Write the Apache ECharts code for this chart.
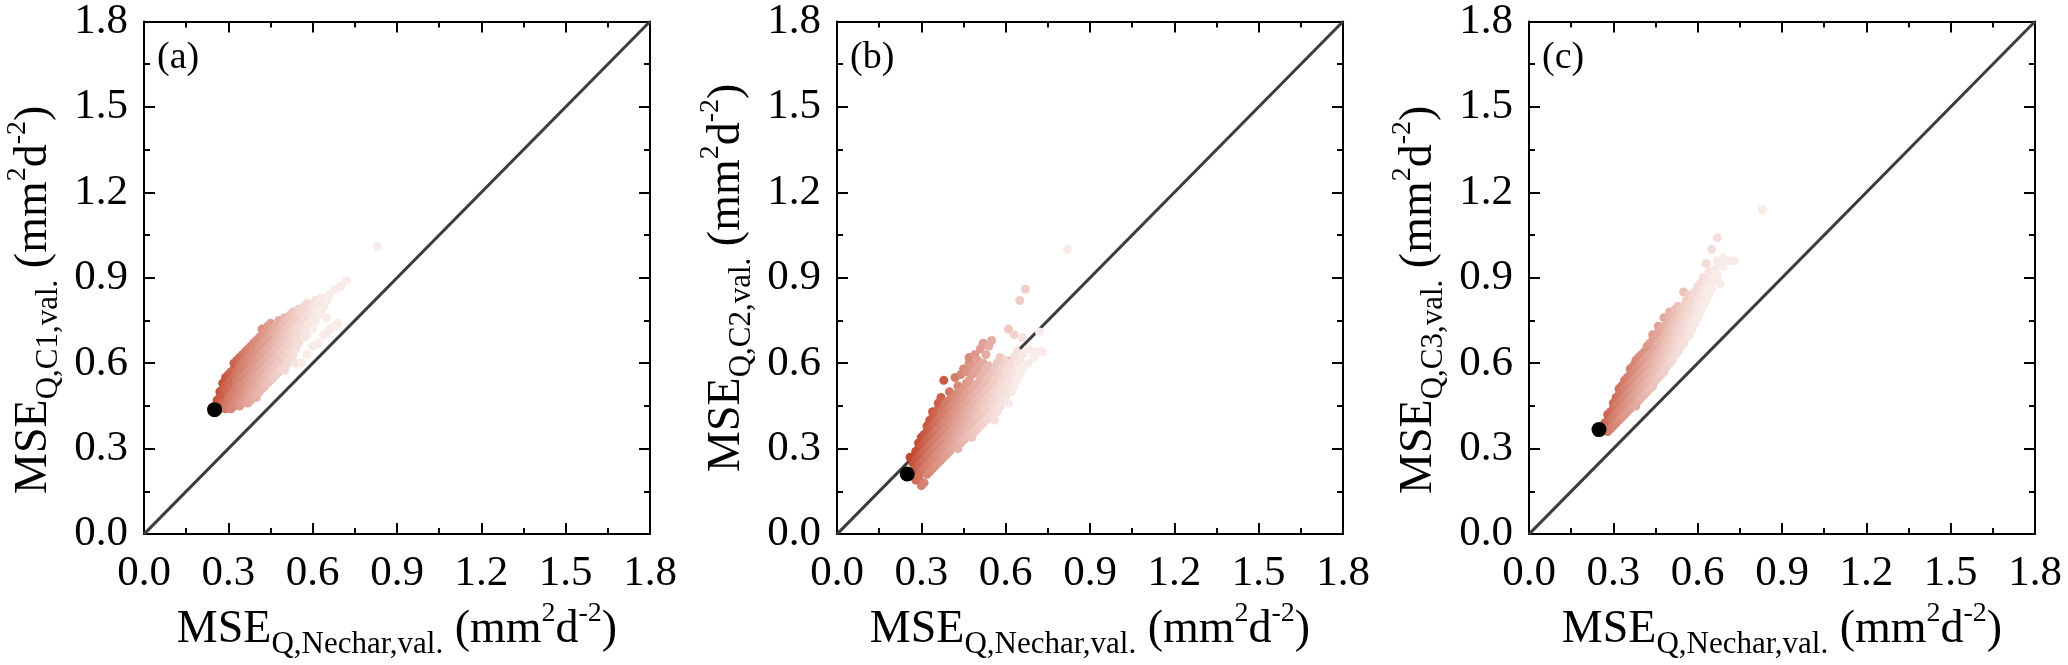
<!DOCTYPE html>
<html>
<head>
<meta charset="utf-8">
<script src="https://cdn.jsdelivr.net/npm/echarts/dist/echarts.min.js"></script>
<style>
  html, body { margin: 0; padding: 0; background: #fff; }
  #main { width: 2068px; height: 665px; }
</style>
</head>
<body>
<div id="main"></div>
<script>
var FONT = '"Liberation Serif", "Times New Roman", serif';

// axis range shared by all three panels
var axisMin = 0, axisMax = 1.8, axisStep = 0.3;
var diagonal = [[0, 0], [1.8, 1.8]];

var panelTags = ['(a)', '(b)', '(c)'];
var ySubs = ['Q,C1,val.', 'Q,C2,val.', 'Q,C3,val.'];
var xSub = 'Q,Nechar,val.';

// calibrated parameter sets: each row is [x, y1, y2, ...] (MSE Nechar, MSE C-model)
var cloudA = [
  [0.26, 0.45, 0.47, 0.46],
  [0.27, 0.44, 0.48, 0.50, 0.46],
  [0.28, 0.45, 0.47, 0.49, 0.51, 0.53],
  [0.29, 0.44, 0.46, 0.50, 0.52, 0.55],
  [0.30, 0.45, 0.48, 0.51, 0.53, 0.56],
  [0.31, 0.44, 0.47, 0.49, 0.52, 0.54, 0.57],
  [0.32, 0.45, 0.48, 0.50, 0.55, 0.58, 0.60],
  [0.33, 0.46, 0.49, 0.52, 0.54, 0.57, 0.61],
  [0.34, 0.45, 0.47, 0.51, 0.53, 0.56, 0.59, 0.62],
  [0.35, 0.46, 0.49, 0.52, 0.55, 0.58, 0.60, 0.63],
  [0.36, 0.47, 0.50, 0.53, 0.56, 0.59, 0.61, 0.64],
  [0.37, 0.46, 0.48, 0.51, 0.54, 0.57, 0.60, 0.62, 0.65],
  [0.38, 0.47, 0.50, 0.53, 0.55, 0.58, 0.61, 0.63, 0.66],
  [0.39, 0.49, 0.52, 0.54, 0.57, 0.60, 0.62, 0.65, 0.67],
  [0.40, 0.48, 0.51, 0.55, 0.58, 0.61, 0.64, 0.68],
  [0.41, 0.50, 0.53, 0.56, 0.59, 0.62, 0.66, 0.69],
  [0.42, 0.51, 0.54, 0.57, 0.60, 0.63, 0.67, 0.70, 0.72],
  [0.43, 0.52, 0.55, 0.58, 0.61, 0.64, 0.68, 0.71],
  [0.44, 0.53, 0.56, 0.59, 0.62, 0.65, 0.69, 0.73],
  [0.45, 0.54, 0.57, 0.60, 0.63, 0.66, 0.70, 0.74],
  [0.46, 0.55, 0.58, 0.61, 0.64, 0.67, 0.71, 0.72],
  [0.47, 0.56, 0.59, 0.62, 0.65, 0.68, 0.70, 0.73],
  [0.48, 0.57, 0.60, 0.63, 0.66, 0.69, 0.72, 0.75],
  [0.49, 0.58, 0.64, 0.67, 0.70, 0.73],
  [0.50, 0.575, 0.62, 0.65, 0.68, 0.71, 0.74, 0.76],
  [0.51, 0.60, 0.66, 0.69, 0.72, 0.75],
  [0.52, 0.61, 0.64, 0.67, 0.70, 0.73, 0.77],
  [0.53, 0.63, 0.68, 0.71, 0.74, 0.78],
  [0.54, 0.60, 0.65, 0.69, 0.72, 0.76],
  [0.55, 0.67, 0.70, 0.73, 0.77, 0.79],
  [0.56, 0.60, 0.71, 0.74, 0.78],
  [0.57, 0.69, 0.72, 0.75, 0.80],
  [0.58, 0.63, 0.70, 0.73, 0.77, 0.81],
  [0.59, 0.74, 0.78],
  [0.60, 0.66, 0.72, 0.76, 0.80],
  [0.61, 0.75, 0.79, 0.82],
  [0.62, 0.67, 0.77, 0.81],
  [0.63, 0.78, 0.83],
  [0.64, 0.70, 0.80],
  [0.65, 0.705, 0.76, 0.82],
  [0.66, 0.72, 0.84],
  [0.68, 0.73, 0.86],
  [0.69, 0.74],
  [0.70, 0.87],
  [0.72, 0.89],
  [0.83, 1.01]
];

var cloudB = [
  [0.26, 0.27],
  [0.27, 0.22, 0.25, 0.27],
  [0.28, 0.19, 0.23, 0.26, 0.29],
  [0.29, 0.20, 0.24, 0.27, 0.30, 0.32],
  [0.30, 0.17, 0.22, 0.25, 0.28, 0.31, 0.34],
  [0.31, 0.18, 0.23, 0.26, 0.29, 0.32, 0.35],
  [0.32, 0.21, 0.24, 0.27, 0.30, 0.33, 0.36, 0.38],
  [0.33, 0.22, 0.25, 0.28, 0.31, 0.34, 0.37, 0.40],
  [0.34, 0.23, 0.26, 0.29, 0.32, 0.35, 0.38, 0.41, 0.43],
  [0.35, 0.24, 0.27, 0.30, 0.33, 0.36, 0.39, 0.42],
  [0.36, 0.25, 0.28, 0.31, 0.34, 0.37, 0.40, 0.44, 0.46],
  [0.37, 0.26, 0.29, 0.32, 0.35, 0.38, 0.41, 0.43, 0.48],
  [0.38, 0.27, 0.30, 0.33, 0.36, 0.39, 0.42, 0.45, 0.54],
  [0.39, 0.28, 0.31, 0.34, 0.37, 0.40, 0.43, 0.46],
  [0.40, 0.29, 0.32, 0.35, 0.38, 0.41, 0.44, 0.47, 0.50],
  [0.41, 0.30, 0.33, 0.36, 0.39, 0.42, 0.45, 0.48],
  [0.42, 0.31, 0.34, 0.37, 0.40, 0.43, 0.46, 0.49, 0.55],
  [0.43, 0.30, 0.33, 0.36, 0.39, 0.42, 0.45, 0.48, 0.52],
  [0.44, 0.32, 0.35, 0.38, 0.41, 0.44, 0.47, 0.50, 0.56],
  [0.45, 0.33, 0.36, 0.39, 0.42, 0.45, 0.48, 0.51, 0.58],
  [0.46, 0.34, 0.37, 0.40, 0.43, 0.46, 0.49, 0.53, 0.57],
  [0.47, 0.35, 0.38, 0.41, 0.44, 0.47, 0.50, 0.54, 0.60, 0.62],
  [0.48, 0.34, 0.39, 0.42, 0.45, 0.48, 0.51, 0.56, 0.59],
  [0.49, 0.36, 0.40, 0.43, 0.46, 0.49, 0.52, 0.57, 0.63],
  [0.50, 0.37, 0.41, 0.44, 0.47, 0.50, 0.53, 0.58, 0.61],
  [0.51, 0.38, 0.42, 0.45, 0.48, 0.51, 0.55, 0.65],
  [0.52, 0.39, 0.43, 0.46, 0.49, 0.52, 0.56, 0.60, 0.67],
  [0.53, 0.40, 0.44, 0.47, 0.50, 0.54, 0.58, 0.63],
  [0.54, 0.41, 0.45, 0.48, 0.51, 0.55, 0.59, 0.66],
  [0.55, 0.42, 0.46, 0.49, 0.52, 0.56, 0.68],
  [0.56, 0.40, 0.44, 0.47, 0.50, 0.54, 0.58],
  [0.57, 0.43, 0.48, 0.51, 0.55, 0.60],
  [0.58, 0.45, 0.49, 0.52, 0.57, 0.62],
  [0.59, 0.47, 0.50, 0.54, 0.59],
  [0.60, 0.48, 0.52, 0.56, 0.61],
  [0.61, 0.46, 0.53, 0.58, 0.72],
  [0.62, 0.50, 0.55, 0.60],
  [0.63, 0.52, 0.57, 0.62, 0.70],
  [0.64, 0.54, 0.59, 0.64],
  [0.65, 0.56, 0.61, 0.82],
  [0.66, 0.58, 0.63, 0.69],
  [0.67, 0.86],
  [0.68, 0.60, 0.65],
  [0.70, 0.62, 0.64],
  [0.72, 0.64, 0.71],
  [0.73, 0.64],
  [0.82, 1.00]
];

var cloudC = [
  [0.27, 0.37, 0.39],
  [0.28, 0.36, 0.38, 0.40, 0.42],
  [0.29, 0.37, 0.40, 0.43],
  [0.30, 0.38, 0.41, 0.44, 0.46],
  [0.31, 0.39, 0.42, 0.45, 0.48],
  [0.32, 0.40, 0.43, 0.46, 0.49, 0.51],
  [0.33, 0.41, 0.44, 0.47, 0.50, 0.52],
  [0.34, 0.42, 0.45, 0.48, 0.51, 0.54],
  [0.35, 0.43, 0.46, 0.49, 0.52, 0.55],
  [0.36, 0.44, 0.47, 0.50, 0.53, 0.56, 0.58],
  [0.37, 0.45, 0.48, 0.51, 0.54, 0.57, 0.59],
  [0.38, 0.45, 0.49, 0.52, 0.55, 0.58, 0.61],
  [0.39, 0.47, 0.50, 0.53, 0.56, 0.59, 0.62],
  [0.40, 0.48, 0.51, 0.54, 0.57, 0.60, 0.63],
  [0.41, 0.49, 0.52, 0.55, 0.58, 0.61, 0.64],
  [0.42, 0.50, 0.53, 0.56, 0.59, 0.62, 0.66],
  [0.43, 0.51, 0.54, 0.57, 0.60, 0.63, 0.67],
  [0.44, 0.52, 0.55, 0.58, 0.61, 0.64, 0.68, 0.70],
  [0.45, 0.54, 0.57, 0.60, 0.63, 0.66, 0.69],
  [0.46, 0.55, 0.58, 0.61, 0.64, 0.67, 0.71, 0.73],
  [0.47, 0.56, 0.59, 0.62, 0.65, 0.68, 0.72],
  [0.48, 0.57, 0.60, 0.63, 0.66, 0.69, 0.73, 0.76],
  [0.49, 0.59, 0.62, 0.65, 0.68, 0.71, 0.74],
  [0.50, 0.60, 0.63, 0.66, 0.69, 0.72, 0.76, 0.78],
  [0.51, 0.61, 0.65, 0.68, 0.71, 0.74, 0.77],
  [0.52, 0.63, 0.66, 0.69, 0.72, 0.75, 0.79],
  [0.53, 0.64, 0.68, 0.71, 0.74, 0.77, 0.80],
  [0.54, 0.66, 0.69, 0.72, 0.76, 0.79],
  [0.55, 0.67, 0.71, 0.74, 0.77, 0.80, 0.85],
  [0.56, 0.69, 0.72, 0.76, 0.79, 0.82],
  [0.57, 0.70, 0.74, 0.77, 0.81, 0.84],
  [0.58, 0.72, 0.75, 0.79, 0.83],
  [0.59, 0.74, 0.77, 0.80, 0.85],
  [0.60, 0.76, 0.79, 0.82, 0.87],
  [0.61, 0.78, 0.81, 0.84, 0.88],
  [0.62, 0.80, 0.83, 0.86, 0.90],
  [0.63, 0.82, 0.85, 0.89, 0.95],
  [0.64, 0.84, 0.87, 0.92],
  [0.65, 0.86, 0.90, 1.00],
  [0.66, 0.89, 0.93],
  [0.67, 0.91, 0.96, 1.04],
  [0.68, 0.88, 0.95],
  [0.69, 0.94, 0.97],
  [0.71, 0.96],
  [0.73, 0.96],
  [0.83, 1.14]
];

// best (black) parameter set in each panel
var bestA = [[0.251, 0.437]];
var bestB = [[0.250, 0.211]];
var bestC = [[0.249, 0.367]];

// colour ramp: shade = x + tilt * (x - y), mapped over shadeRange
var shadeTilt = [0.5, 0.5, 0.5];
var shadeRange = [[0.14, 0.54], [0.27, 0.69], [0.17, 0.53]];
var shadeColors = ['#c24a32', '#d47b69', '#df9d90', '#eabcb3', '#f3d8d2', '#f8ebe8'];

function shadeOf(v, range) {
  var t = (v - range[0]) / (range[1] - range[0]);
  t = Math.max(0, Math.min(1, t));
  return echarts.color.lerp(t, shadeColors);
}

function toPoints(rows, tilt) {
  var out = [];
  rows.forEach(function (r) {
    for (var k = 1; k < r.length; k++) {
      out.push([r[0], r[k], r[0] + tilt * (r[0] - r[k])]);
    }
  });
  return out;
}

var clouds = [
  toPoints(cloudA, shadeTilt[0]),
  toPoints(cloudB, shadeTilt[1]),
  toPoints(cloudC, shadeTilt[2])
];
var bests = [bestA, bestB, bestC];

var panelLeft = [144, 837, 1529];
var panelW = 506, panelTop = 20, panelH = 532;
var yNamePad = [[0, 44, 0, 0], [0, 0, 0, 0], [0, 44, 0, 0]];

var richStyles = {
  m: { fontFamily: FONT, fontSize: 46, color: '#000', lineHeight: 60 },
  s: { fontFamily: FONT, fontSize: 31, color: '#000', lineHeight: 30, verticalAlign: 'bottom' },
  p: { fontFamily: FONT, fontSize: 28, color: '#000', lineHeight: 34, verticalAlign: 'top' }
};

function axisTitle(sub) {
  return '{m|MSE}{s|' + sub + '}{m| (mm}{p|2}{m|d}{p|-2}{m|)}';
}

function baseAxis(gridIndex, position, showLabel) {
  return {
    type: 'value',
    gridIndex: gridIndex,
    position: position,
    min: axisMin,
    max: axisMax,
    interval: axisStep,
    axisLine: { show: true, onZero: false, lineStyle: { color: '#000', width: 2 } },
    axisTick: { show: true, inside: true, length: 11, lineStyle: { color: '#000', width: 2 } },
    minorTick: { show: true, splitNumber: 2, length: 6, lineStyle: { color: '#000', width: 2 } },
    splitLine: { show: false },
    axisLabel: {
      show: showLabel,
      fontFamily: FONT,
      fontSize: 43,
      color: '#000',
      formatter: function (v) { return v.toFixed(1); }
    }
  };
}

var grids = [], xAxes = [], yAxes = [], series = [], titles = [];

for (var i = 0; i < 3; i++) {
  grids.push({ left: panelLeft[i], top: panelTop, width: panelW, height: panelH });

  var xb = baseAxis(i, 'bottom', true);
  xb.axisLabel.margin = 18;
  xb.name = axisTitle(xSub);
  xb.nameLocation = 'middle';
  xb.nameGap = 64;
  xb.nameTextStyle = { rich: richStyles };
  var xt = baseAxis(i, 'top', false);
  xAxes.push(xb, xt);

  var yl = baseAxis(i, 'left', true);
  yl.axisLabel.margin = 16;
  yl.name = axisTitle(ySubs[i]);
  yl.nameLocation = 'middle';
  yl.nameRotate = 90;
  yl.nameGap = 80;
  yl.nameTextStyle = { rich: richStyles, padding: yNamePad[i] };
  var yr = baseAxis(i, 'right', false);
  yAxes.push(yl, yr);

  series.push({
    type: 'line',
    xAxisIndex: 2 * i,
    yAxisIndex: 2 * i,
    data: diagonal,
    symbol: 'none',
    silent: true,
    lineStyle: { color: '#3c3c3c', width: 3 },
    z: 2
  });

  (function (range) {
    series.push({
      type: 'scatter',
      xAxisIndex: 2 * i,
      yAxisIndex: 2 * i,
      data: clouds[i],
      symbolSize: 9,
      itemStyle: {
        opacity: 1,
        color: function (p) { return shadeOf(p.data[2], range); }
      },
      z: 3
    });
  })(shadeRange[i]);

  series.push({
    type: 'scatter',
    xAxisIndex: 2 * i,
    yAxisIndex: 2 * i,
    data: bests[i],
    symbolSize: 15,
    itemStyle: { color: '#000', opacity: 1 },
    z: 4
  });

  titles.push({
    text: panelTags[i],
    left: panelLeft[i] + 8,
    top: 34,
    textStyle: { fontFamily: FONT, fontSize: 38, fontWeight: 'normal', color: '#000' }
  });
}

var chart = echarts.init(document.getElementById('main'));
chart.setOption({
  backgroundColor: '#fff',
  animation: false,
  title: titles,
  grid: grids,
  xAxis: xAxes,
  yAxis: yAxes,
  series: series
});

window.addEventListener('resize', function () {
  chart.resize();
});
</script>
</body>
</html>
